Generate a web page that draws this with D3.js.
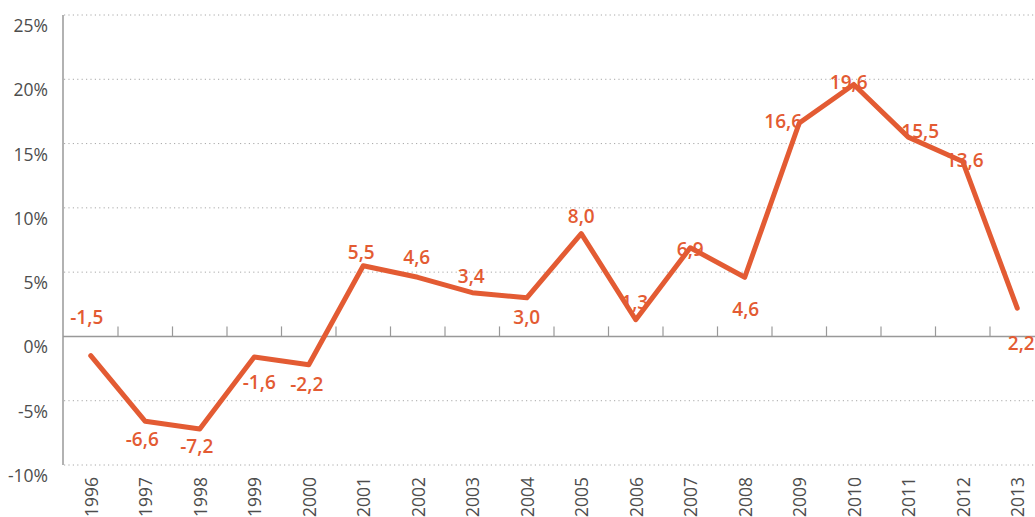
<!DOCTYPE html>
<html>
<head>
<meta charset="utf-8">
<title>Variation annuelle</title>
<script src="https://cdn.jsdelivr.net/npm/d3@7"></script>
<style>
  body { margin: 0; background: #fff; }
  svg text { font-family: "Open Sans", "Noto Sans", sans-serif; }
</style>
</head>
<body>
<div id="chart"></div>
<script>
// data
var years = ["1996", "1997", "1998", "1999", "2000", "2001", "2002", "2003", "2004",
             "2005", "2006", "2007", "2008", "2009", "2010", "2011", "2012", "2013"];
var values = [-1.5, -6.6, -7.2, -1.6, -2.2, 5.5, 4.6, 3.4, 3.0,
              8.0, 1.3, 6.9, 4.6, 16.6, 19.6, 15.5, 13.6, 2.2];
var yTicks = [-10, -5, 0, 5, 10, 15, 20, 25];

// where each value label sits relative to its point (layout only)
var labelDx = [-4, -3, -3, 5, -2, -2, -1, -1, 0, 0, -1, 0, 1, -16, -5, 12, 2, 4];
var labelDy = [-39, 18, 17, 25, 19, -14, -20, -17, 19, -18, -18, 1, 32, -2, -2, -6, -2, 35];

var W = 1035, H = 517;
var svg = d3.select("#chart").append("svg")
    .attr("width", W)
    .attr("height", H);

var x = d3.scaleBand().domain(years).range([63.5, 1044.5]);
var y = d3.scaleLinear().domain([-10, 25]).range([465, 15]);

var orange = "#e35b33";
var grey = "#999";

// dotted grid lines
svg.append("g")
    .selectAll("line")
    .data(yTicks.filter(function(d) { return d !== 0; }))
    .enter().append("line")
    .attr("x1", 64).attr("x2", W)
    .attr("y1", function(d) { return y(d); })
    .attr("y2", function(d) { return y(d); })
    .attr("stroke", "#a8a8a8")
    .attr("stroke-width", 1)
    .attr("stroke-dasharray", "1.2,3.2");

// y tick labels
svg.append("g")
    .selectAll("text")
    .data(yTicks)
    .enter().append("text")
    .attr("x", 48)
    .attr("y", function(d) { return y(d) + 10; })
    .attr("text-anchor", "end")
    .attr("dominant-baseline", "central")
    .style("font-size", "17.5px")
    .style("fill", "#4d4d4d")
    .text(function(d) { return d + "%"; });

// y axis line
svg.append("line")
    .attr("x1", 63).attr("x2", 63)
    .attr("y1", y(25)).attr("y2", y(-10))
    .attr("stroke", grey).attr("stroke-width", 1.5);

// x axis on zero, ticks between years
svg.append("line")
    .attr("x1", 63).attr("x2", W)
    .attr("y1", y(0)).attr("y2", y(0))
    .attr("stroke", grey).attr("stroke-width", 1.5);

svg.append("g")
    .selectAll("line")
    .data(years.slice(1))
    .enter().append("line")
    .attr("x1", function(d) { return x(d); })
    .attr("x2", function(d) { return x(d); })
    .attr("y1", y(0) - 10).attr("y2", y(0))
    .attr("stroke", grey).attr("stroke-width", 1.2);

// year labels, rotated
svg.append("g")
    .selectAll("text")
    .data(years)
    .enter().append("text")
    .attr("transform", function(d) {
        return "translate(" + (x(d) + x.bandwidth() / 2) + ",477) rotate(-90)";
    })
    .attr("text-anchor", "end")
    .attr("dominant-baseline", "central")
    .style("font-size", "17.5px")
    .style("fill", "#4d4d4d")
    .text(function(d) { return d; });

// the line
var line = d3.line()
    .x(function(d, i) { return x(years[i]) + x.bandwidth() / 2; })
    .y(function(d) { return y(d); });

svg.append("path")
    .datum(values)
    .attr("d", line)
    .attr("fill", "none")
    .attr("stroke", orange)
    .attr("stroke-width", 5)
    .attr("stroke-linejoin", "round")
    .attr("stroke-linecap", "round");

// value labels (hyphen minus, comma decimal)
svg.append("g")
    .selectAll("text")
    .data(values)
    .enter().append("text")
    .attr("x", function(d, i) { return x(years[i]) + x.bandwidth() / 2 + labelDx[i]; })
    .attr("y", function(d, i) { return y(d) + labelDy[i]; })
    .attr("text-anchor", "middle")
    .attr("dominant-baseline", "central")
    .style("font-size", "19px")
    .style("font-weight", 600)
    .style("fill", orange)
    .text(function(d) { return d.toFixed(1).replace(".", ","); });
</script>
</body>
</html>
